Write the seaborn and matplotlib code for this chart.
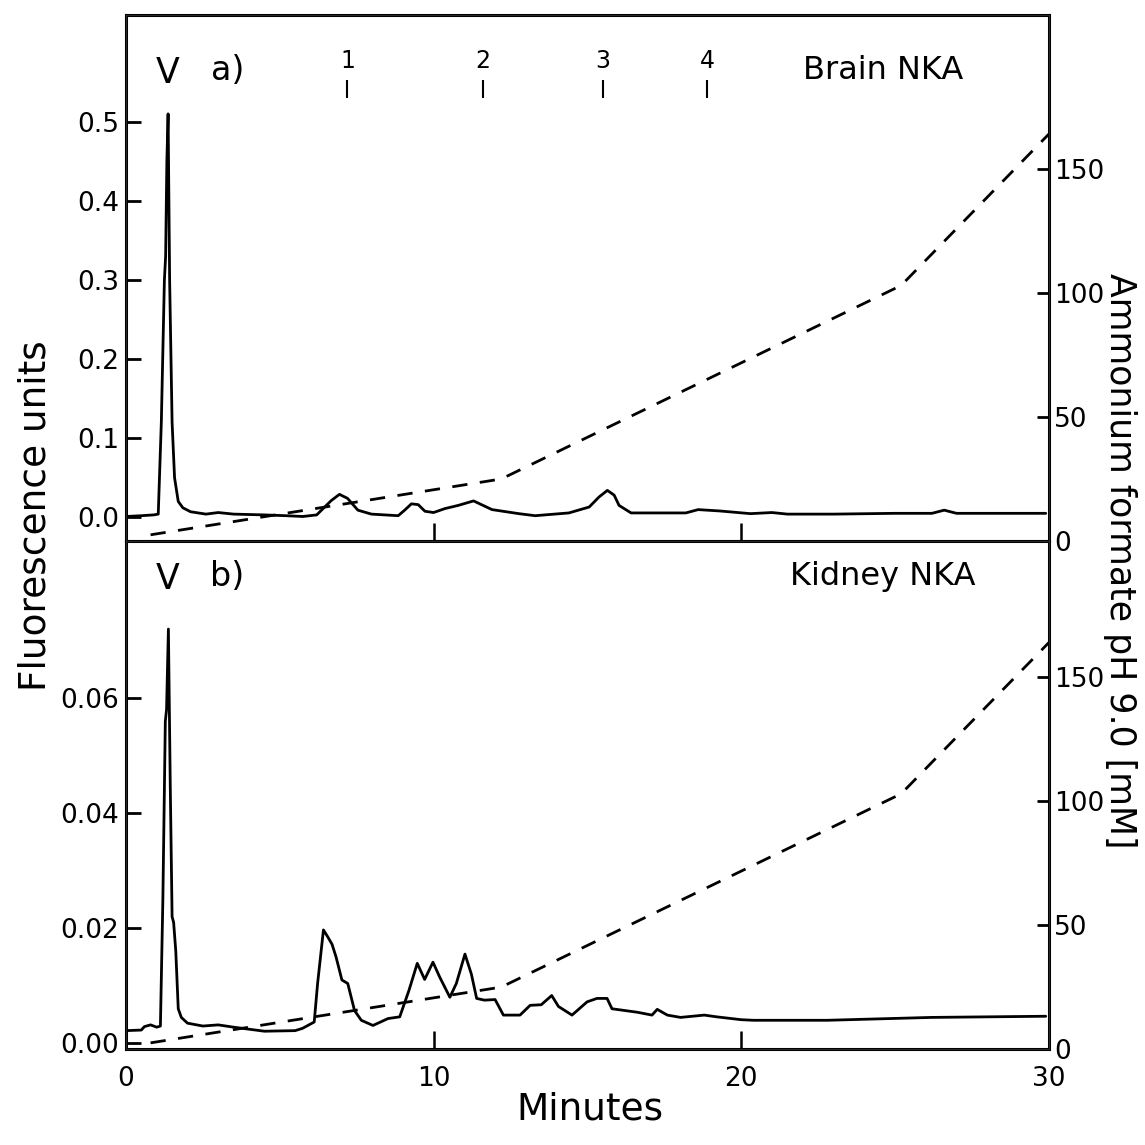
import numpy as np
import pandas as pd
import matplotlib
matplotlib.use("Agg")
import matplotlib.pyplot as plt
import seaborn as sns

sns.set_style("ticks")
plt.rcParams['font.family'] = ['DejaVu Sans']
plt.rcParams.update({"text.color": "black", "axes.labelcolor": "black",
                     "xtick.color": "black", "ytick.color": "black"})

# %% data
brain_t = [0.0, 0.5, 0.9, 1.05, 1.15, 1.25, 1.29, 1.33, 1.37, 1.42,
           1.5, 1.58, 1.7, 1.85, 2.1, 2.6, 3.0, 3.5, 4.5, 5.2,
           5.75, 6.2, 6.67, 6.94, 7.2, 7.54, 7.98, 8.85, 9.06, 9.28,
           9.5, 9.72, 10.0, 10.37, 10.8, 11.3, 11.9, 12.77, 13.3, 14.4,
           15.06, 15.38, 15.65, 15.87, 16.03, 16.42, 18.2, 18.6, 19.3, 20.3,
           21.0, 21.5, 23.0, 25.0, 26.2, 26.6, 27.0, 28.5, 29.9]
brain_fl = [0.001, 0.002, 0.003, 0.004, 0.12, 0.30, 0.33, 0.45, 0.51, 0.30,
            0.12, 0.05, 0.02, 0.012, 0.007, 0.004, 0.006, 0.004, 0.003, 0.002,
            0.001, 0.003, 0.021, 0.029, 0.024, 0.009, 0.004, 0.002, 0.009, 0.017,
            0.016, 0.0076, 0.006, 0.011, 0.015, 0.0207, 0.0097, 0.0046, 0.002, 0.0055,
            0.013, 0.0257, 0.034, 0.028, 0.015, 0.0055, 0.0055, 0.0097, 0.008, 0.0046,
            0.006, 0.004, 0.004, 0.005, 0.005, 0.009, 0.005, 0.005, 0.005]

kidney_t = [0.0, 0.5, 0.6, 0.8, 1.0, 1.12, 1.2, 1.28, 1.32, 1.38,
            1.44, 1.5, 1.55, 1.62, 1.7, 1.8, 2.0, 2.5, 3.0, 3.5,
            4.5, 5.5, 5.74, 6.12, 6.23, 6.42, 6.56, 6.7, 6.83, 7.02,
            7.21, 7.43, 7.65, 8.03, 8.52, 8.9, 9.2, 9.47, 9.71, 9.98,
            10.2, 10.53, 10.74, 11.02, 11.23, 11.4, 11.65, 12.0, 12.27, 12.81,
            13.14, 13.5, 13.84, 14.06, 14.5, 14.99, 15.31, 15.64, 15.8, 16.62,
            17.1, 17.27, 17.6, 18.03, 18.8, 19.2, 20.0, 20.4, 22.8, 26.2, 29.9]
kidney_fl = [0.0022, 0.0023, 0.0029, 0.0032, 0.0028, 0.0030, 0.025, 0.056, 0.058, 0.072,
             0.045, 0.022, 0.021, 0.016, 0.006, 0.0045, 0.0035, 0.003, 0.0032, 0.0028,
             0.0021, 0.0022, 0.0026, 0.0037, 0.0104, 0.0197, 0.0185, 0.0172, 0.015, 0.011,
             0.0104, 0.0057, 0.004, 0.0031, 0.0043, 0.0046, 0.0092, 0.0139, 0.0111, 0.0141,
             0.0115, 0.008, 0.0104, 0.0155, 0.012, 0.0078, 0.0075, 0.0076, 0.0049, 0.0049,
             0.0066, 0.0067, 0.0083, 0.0064, 0.0049, 0.0072, 0.0078, 0.0078, 0.006, 0.0054,
             0.0049, 0.0059, 0.0049, 0.0045, 0.0049, 0.0046, 0.0041, 0.004, 0.004, 0.0045, 0.0047]

# ammonium formate gradient (mM)
grad_t = [0.8, 12.2, 25.2, 30.0]
grad_mm = [2.5, 25, 103, 164]

# standard markers on top of panel a
std_t = [7.2, 11.6, 15.5, 18.9]
std_labels = ["1", "2", "3", "4"]

x_ticks = [0, 10, 20, 30]
a_yticks = [0.0, 0.1, 0.2, 0.3, 0.4, 0.5]
a_ylabels = ["0.0", "0.1", "0.2", "0.3", "0.4", "0.5"]
b_yticks = [0.0, 0.02, 0.04, 0.06]
b_ylabels = ["0.00", "0.02", "0.04", "0.06"]
r_ticks = [0, 50, 100, 150]
void_t = 1.37

# %%
fig = plt.figure(figsize=(11.45, 11.45), dpi=100)
ax_a = fig.add_axes([0.110, 0.5275, 0.806, 0.4594])
ax_b = fig.add_axes([0.110, 0.0838, 0.806, 0.4437])

LW = 2.0
tick_fs = 19


def style_axes(ax, twin):
    for sp in ax.spines.values():
        sp.set_visible(True)
        sp.set_linewidth(2.2)
        sp.set_color("black")
    ax.tick_params(axis="y", direction="in", length=11, width=2, labelsize=tick_fs,
                   right=False, pad=5)
    ax.tick_params(axis="x", direction="in", length=13, width=1.8, labelsize=tick_fs,
                   top=False, pad=12)
    twin.tick_params(axis="y", direction="in", length=9, width=2, labelsize=tick_fs,
                     left=False, pad=4)
    ax.set_xlim(0, 30)
    ax.set_xticks(x_ticks)
    ax.set_xlabel("")
    ax.set_ylabel("")
    twin.set_ylabel("")


panels = [
    (ax_a, brain_t, brain_fl, (-0.030, 0.635), a_yticks, a_ylabels, (0, 212), "a)", "Brain NKA", 0.895),
    (ax_b, kidney_t, kidney_fl, (-0.001, 0.0873), b_yticks, b_ylabels, (0, 205), "b)", "Kidney NKA", 0.93),
]

for ax, t, fl, ylim, yt, yl, rlim, tag, name, ty in panels:
    sns.lineplot(x=t, y=fl, ax=ax, color="black", linewidth=LW)
    ax.set_ylim(*ylim)
    ax.set_yticks(yt)
    ax.set_yticklabels(yl)

    twin = ax.twinx()
    sns.lineplot(x=grad_t, y=grad_mm, ax=twin, color="black", linewidth=LW)
    twin.lines[-1].set_dashes((5.5, 4.5))
    twin.set_ylim(*rlim)
    twin.set_yticks(r_ticks)
    twin.set_yticklabels([str(v) for v in r_ticks])
    style_axes(ax, twin)

    tr = ax.get_xaxis_transform()
    ax.text(void_t, ty - 0.005, "V", transform=tr, ha="center", va="center", fontsize=25)
    ax.text(3.3, ty, tag, transform=tr, ha="center", va="center", fontsize=24)
    ax.text(24.6, ty, name, transform=tr, ha="center", va="center", fontsize=23)

ax_a.set_xticklabels([])

# retention markers 1-4
ax_a.vlines(std_t, 0.842, 0.876, transform=ax_a.get_xaxis_transform(), color="black", lw=1.5)
for xv, lab in zip(std_t, std_labels):
    ax_a.text(xv, 0.912, lab, transform=ax_a.get_xaxis_transform(),
              ha="center", va="center", fontsize=17)

fig.text(0.031, 0.55, "Fluorescence units", rotation=90, ha="center", va="center", fontsize=27)
fig.text(0.978, 0.51, "Ammonium formate pH 9.0 [mM]", rotation=-90, ha="center", va="center",
         fontsize=25)
fig.text(0.515, 0.031, "Minutes", ha="center", va="center", fontsize=27)

fig.savefig("out.png", dpi=100)
